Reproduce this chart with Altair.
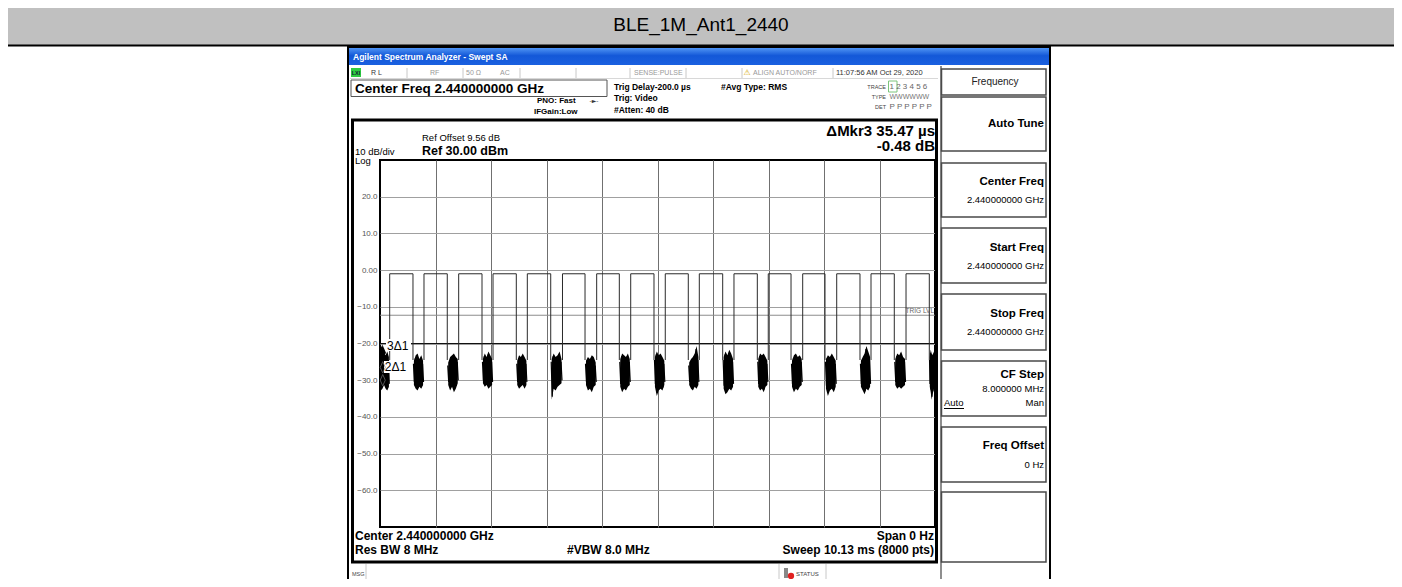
import altair as alt
import pandas as pd

# ---------------- data ----------------
title_text = "BLE_1M_Ant1_2440"
sweep_ms = 10.13
y_tick_values = [20, 10, 0, -10, -20, -30, -40, -50, -60]

rise_ms = [0.177, 0.803, 1.436, 2.063, 2.689, 3.331, 3.955, 4.576,
           5.207, 5.828, 6.461, 7.087, 7.715, 8.336, 8.962, 9.601]
fall_ms = [0.602, 1.228, 1.862, 2.488, 3.116, 3.742, 4.368, 5.001,
           5.627, 6.255, 6.887, 7.502, 8.122, 8.761, 9.387, 10.026]
high_db = -1.0
edge_low_db = -24.5

noise_top = [
    [-22.0, -21.0, -23.5, -24.0, -23.0, -24.5],
    [-25.5, -24.0, -23.5, -25.0, -24.0, -25.5],
    [-26.0, -24.5, -24.0, -23.5, -24.5, -25.0],
    [-25.0, -23.5, -24.5, -23.0, -24.0, -25.0],
    [-25.5, -24.0, -24.5, -23.5, -24.5, -25.5],
    [-25.0, -23.5, -24.5, -24.0, -23.0, -25.0],
    [-25.5, -24.5, -25.0, -24.0, -24.5, -26.0],
    [-25.0, -23.5, -24.0, -24.5, -23.5, -25.0],
    [-24.5, -23.0, -24.0, -23.5, -24.5, -25.5],
    [-26.0, -25.0, -24.5, -23.5, -21.5, -24.5],
    [-24.5, -23.0, -24.0, -22.5, -23.5, -25.0],
    [-25.0, -23.5, -24.0, -23.5, -24.5, -25.5],
    [-25.5, -24.0, -23.5, -24.5, -24.0, -25.0],
    [-25.0, -24.0, -24.5, -23.5, -24.5, -25.5],
    [-25.5, -24.5, -23.5, -21.5, -23.0, -24.5],
    [-25.0, -23.5, -24.0, -23.0, -24.5, -25.0],
    [-24.5, -22.5, -23.5, -24.0, -23.0, -24.5],
]
noise_bot = [
    [-32.0, -31.5, -30.5, -31.5, -32.0, -31.0],
    [-30.5, -31.5, -32.0, -31.0, -31.5, -30.5],
    [-30.5, -32.0, -31.0, -32.5, -31.5, -30.0],
    [-30.0, -31.0, -30.5, -31.5, -31.0, -30.5],
    [-30.5, -31.5, -31.0, -30.5, -31.5, -30.5],
    [-34.5, -31.5, -32.0, -31.0, -30.5, -30.0],
    [-30.5, -32.0, -31.5, -32.5, -31.0, -30.5],
    [-31.0, -32.5, -31.5, -32.0, -31.0, -30.5],
    [-31.0, -33.5, -32.0, -31.5, -32.0, -30.5],
    [-30.5, -31.5, -32.0, -31.0, -31.5, -30.5],
    [-31.5, -33.0, -32.5, -31.5, -32.0, -31.0],
    [-31.0, -32.0, -31.5, -32.5, -31.0, -30.5],
    [-31.0, -32.5, -31.5, -32.0, -31.0, -30.5],
    [-31.5, -33.5, -32.0, -31.5, -32.5, -31.0],
    [-31.0, -32.0, -33.0, -31.5, -32.0, -31.0],
    [-30.5, -31.5, -31.0, -31.5, -31.0, -30.5],
    [-31.0, -32.5, -34.5, -33.0, -32.0, -31.0],
]

trig_level_db = -12.3
display_line_db = -20.0
marker_names = ["1", "2", "3"]
marker_t = [0.05, 0.05, 0.055]
marker_db = [-30.0, -26.5, -22.5]
marker_labels = ["", "2\u03941", "3\u03941"]

# ---------------- tables built from the arrays ----------------
pulse_rows = []
for i, (r, f) in enumerate(zip(rise_ms, fall_ms)):
    for k, (t, v) in enumerate([(r, edge_low_db), (r, high_db), (f, high_db), (f, edge_low_db)]):
        pulse_rows.append({"p": i, "k": k, "t": t, "db": v})
pulse_df = pd.DataFrame(pulse_rows)

starts = [0.0] + fall_ms
ends = rise_ms + [sweep_ms]
noise_rows = []
band_rows = []
for b, (s, e) in enumerate(zip(starts, ends)):
    vals = []
    for a, c in zip(noise_top[b], noise_bot[b]):
        vals += [a, c]
    n = len(vals)
    for j, v in enumerate(vals):
        noise_rows.append({"b": b, "k": j, "t": s + (e - s) * (j + 0.5) / n, "db": v})
    m = len(noise_top[b])
    for j, (a, c) in enumerate(zip(noise_top[b], noise_bot[b])):
        band_rows.append({"b": b, "t": s + (e - s) * (j + 0.5) / m, "top": a + 0.8, "bot": c - 0.8})
noise_df = pd.DataFrame(noise_rows)
band_df = pd.DataFrame(band_rows)

lines_df = pd.DataFrame({"db": [trig_level_db, display_line_db],
                         "kind": ["trig", "display"]})
marker_df = pd.DataFrame({"m": marker_names, "t": marker_t, "db": marker_db,
                          "label": marker_labels})

# ---------------- encodings ----------------
FONT = "Liberation Sans"
XS = alt.Scale(domain=[0, sweep_ms], nice=False, zero=False)
YS = alt.Scale(domain=[-70, 30], nice=False, zero=False)
X = alt.X("t:Q", scale=XS,
          axis=alt.Axis(values=[sweep_ms * i / 10 for i in range(1, 10)], labels=False,
                        ticks=False, domain=False, grid=True, gridColor="#707070",
                        gridWidth=1, title=None))
YAX = alt.Axis(values=y_tick_values,
               labelExpr="datum.value == 0 ? '0.00' : format(datum.value, '.1f')",
               grid=True, gridColor="#a0a0a0", gridWidth=1, ticks=False,
               domain=False, labelFont=FONT, labelFontSize=8,
               labelColor="#555555", labelPadding=3, title=None)
Y = alt.Y("db:Q", scale=YS, axis=YAX)

OX, OY = 380, 160
one = alt.Data(values=[{"a": 1}])


def T(s, px, py, size=11, weight="normal", align="left", color="black", font=FONT):
    return alt.Chart(one).mark_text(text=s, fontSize=size, fontWeight=weight, align=align,
                                    baseline="middle", color=color, font=font).encode(
        x=alt.value(px - OX), y=alt.value(py - OY))


def R(x1, y1, x2, y2, fill=None, stroke=None, sw=1.0):
    kw = {}
    if fill is not None:
        kw["fill"] = fill
    else:
        kw["fillOpacity"] = 0
        kw["fill"] = "white"
    if stroke is not None:
        kw["stroke"] = stroke
        kw["strokeWidth"] = sw
    return alt.Chart(one).mark_rect(**kw).encode(
        x=alt.value(x1 - OX), x2=alt.value(x2 - OX), y=alt.value(y1 - OY), y2=alt.value(y2 - OY))


def L(x1, y1, x2, y2, color="black", sw=1.0):
    return alt.Chart(one).mark_rule(color=color, strokeWidth=sw).encode(
        x=alt.value(x1 - OX), x2=alt.value(x2 - OX), y=alt.value(y1 - OY), y2=alt.value(y2 - OY))


layers = []
# report header
layers.append(R(8, 8, 1394, 45, fill="#c0c0c0"))
layers.append(L(8, 45.5, 1394, 45.5, sw=2))
layers.append(T(title_text, 701, 24.5, size=19, align="center"))

# analyzer screenshot frame & title bar
blue = alt.Gradient(gradient="linear", x1=0, x2=0, y1=0, y2=1,
                    stops=[alt.GradientStop(color="#4f94f4", offset=0),
                           alt.GradientStop(color="#1358d8", offset=0.45),
                           alt.GradientStop(color="#1a60e0", offset=1)])
layers.append(R(349, 48, 1049, 65, fill=blue))
layers.append(T("Agilent Spectrum Analyzer - Swept SA", 353, 57, size=8.5, weight="bold", color="white"))
layers.append(R(348, 47, 1050, 600, stroke="black", sw=2))

# status row
layers.append(R(351, 68, 361, 77, fill="#2ecc40"))
layers.append(T("LXI", 356, 72.5, size=5.5, weight="bold", align="center", color="#123"))
for sx in [407, 463, 520, 576, 630, 686, 742, 833]:
    layers.append(L(sx, 68, sx, 78, color="#c8c8c8"))
layers.append(L(350, 78.5, 938, 78.5, color="#d8d8d8"))
layers.append(T("R L", 371, 72.5, size=7, color="#333"))
layers.append(T("RF", 430, 72.5, size=7, color="#999"))
layers.append(T("50 \u03a9", 466, 72.5, size=7, color="#999"))
layers.append(T("AC", 500, 72.5, size=7, color="#999"))
layers.append(T("SENSE:PULSE", 634, 72.5, size=7, color="#999"))
layers.append(T("\u26a0", 747, 72.5, size=8, align="center", color="#d4a800", font="DejaVu Sans"))
layers.append(T("ALIGN AUTO/NORF", 753, 72.5, size=7, color="#999"))
layers.append(T("11:07:56 AM Oct 29, 2020", 836, 72.5, size=7.5, color="#333"))

# second row
layers.append(R(351, 80, 607, 96.5, stroke="#555", sw=1))
layers.append(T("Center Freq 2.440000000 GHz", 355, 88.5, size=13.5, weight="bold"))
layers.append(T("PNO: Fast", 537, 101, size=8, weight="bold"))
layers.append(T("-\u25ba-", 594, 101, size=6, align="center", color="#333", font="DejaVu Sans"))
layers.append(T("IFGain:Low", 534, 111.5, size=8, weight="bold"))
layers.append(T("Trig Delay-200.0 \u00b5s", 614, 87, size=8.5, weight="bold"))
layers.append(T("Trig: Video", 614, 98, size=8.5, weight="bold"))
layers.append(T("#Atten: 40 dB", 614, 109.5, size=8.5, weight="bold"))
layers.append(T("#Avg Type: RMS", 721, 86.5, size=8.5, weight="bold"))
layers.append(T("TRACE", 886, 86.5, size=5.5, align="right", color="#444"))
layers.append(T("TYPE", 886, 96.5, size=5.5, align="right", color="#444"))
layers.append(T("DET", 886, 106.5, size=5.5, align="right", color="#444"))
layers.append(R(888.5, 81, 897, 92, stroke="#7cc47c", sw=1))
layers.append(T("1 2 3 4 5 6", 889.5, 86.5, size=8, color="#666"))
layers.append(T("WWWWWW", 889.5, 96.5, size=7, color="#777"))
layers.append(T("P P P P P P", 889.5, 106.5, size=8, color="#666"))

# display panel
layers.append(R(352.5, 120, 936.5, 562, stroke="black", sw=3))
layers.append(T("Ref Offset 9.56 dB", 422, 138, size=9.5))
layers.append(T("Ref 30.00 dBm", 422, 150.5, size=12.5, weight="bold"))
layers.append(T("10 dB/div", 355, 151.5, size=9.5))
layers.append(T("Log", 355, 160.5, size=9.5))
layers.append(T("\u0394Mkr3 35.47 \u00b5s", 935, 131, size=15, weight="bold", align="right"))
layers.append(T("-0.48 dB", 935, 146, size=15, weight="bold", align="right"))
layers.append(T("Center 2.440000000 GHz", 355, 536, size=12, weight="bold"))
layers.append(T("Span 0 Hz", 934, 536, size=12, weight="bold", align="right"))
layers.append(T("Res BW 8 MHz", 355, 550, size=12, weight="bold"))
layers.append(T("#VBW 8.0 MHz", 567, 550, size=12, weight="bold"))
layers.append(T("Sweep  10.13 ms (8000 pts)", 934, 550, size=12, weight="bold", align="right"))

# message row
layers.append(L(366, 564, 366, 584, color="#c8c8c8"))
layers.append(L(779, 564, 779, 584, color="#c8c8c8"))
layers.append(L(826, 564, 826, 584, color="#c8c8c8"))
layers.append(T("MSG", 352, 573.5, size=5.5, color="#444"))
layers.append(R(784, 568, 788, 578, fill="#888"))
layers.append(alt.Chart(one).mark_point(filled=True, color="#e02020", size=40, shape="circle",
                                        opacity=1).encode(x=alt.value(791 - OX), y=alt.value(576 - OY)))
layers.append(T("STATUS", 796, 573.5, size=6, color="#444"))

# softkey column
layers.append(L(941, 66, 941, 600, color="#444", sw=1.2))
keys = [(69, 95), (97, 151), (163, 217), (228, 283), (294, 350), (361, 416), (427, 482), (492, 562)]
for (a, b) in keys:
    layers.append(R(941.5, a, 1046, b, stroke="#4a4a4a", sw=1.5))
layers.append(T("Frequency", 995, 82, size=10, align="center", color="#222"))
layers.append(T("Auto Tune", 1044, 123.5, size=11.5, weight="bold", align="right"))
for ttl, ty in [("Center Freq", 182), ("Start Freq", 248), ("Stop Freq", 314)]:
    layers.append(T(ttl, 1044, ty, size=11.5, weight="bold", align="right"))
    layers.append(T("2.440000000 GHz", 1044, ty + 18, size=9.5, align="right"))
layers.append(T("CF Step", 1044, 375, size=11.5, weight="bold", align="right"))
layers.append(T("8.000000 MHz", 1044, 389, size=9.5, align="right"))
layers.append(T("Auto", 944, 403, size=9.5))
layers.append(L(944, 408.5, 964, 408.5, sw=1))
layers.append(T("Man", 1044, 403, size=9.5, align="right"))
layers.append(T("Freq Offset", 1044, 446, size=11.5, weight="bold", align="right"))
layers.append(T("0 Hz", 1044, 465, size=9.5, align="right"))

# ---------------- plot (data through scales) ----------------
ref_lines = alt.Chart(lines_df).mark_rule(strokeWidth=1).encode(
    y=Y,
    color=alt.Color("kind:N", scale=alt.Scale(domain=["trig", "display"], range=["#8c8c8c", "#111111"]),
                    legend=None))
trace = alt.Chart(pulse_df).mark_line(color="#2a2a2a", strokeWidth=1).encode(
    x=X, y=Y, detail="p:N", order="k:Q")
band = alt.Chart(band_df).mark_area(color="black", opacity=1, interpolate="linear").encode(
    x=X, y=alt.Y("top:Q", scale=YS, axis=YAX), y2="bot:Q", detail="b:N")
noise = alt.Chart(noise_df).mark_line(color="black", strokeWidth=1.2).encode(
    x=X, y=Y, detail="b:N", order="k:Q")
trig_txt = T("TRIG LVL", 934, 310.5, size=6.5, align="right", color="#666")
lbl_bg1 = R(386, 339, 411, 351, fill="white")
lbl_bg2 = R(384, 361, 409, 373, fill="white")
mk_path = "M0,-1.7L0.75,0L0,1.7L-0.75,0Z"
mk_open = alt.Chart(marker_df).transform_filter("datum.m != '3'").mark_point(
    shape=mk_path, size=45, filled=False, color="#777", strokeWidth=1).encode(x=X, y=Y)
mk_fill = alt.Chart(marker_df).transform_filter("datum.m == '3'").mark_point(
    shape=mk_path, size=60, filled=True, color="black", opacity=1).encode(x=X, y=Y)
mk_text3 = alt.Chart(marker_df).transform_filter("datum.m == '3'").mark_text(
    align="left", baseline="middle", fontSize=12, font=FONT, dx=4, dy=-7, color="black").encode(
    x=X, y=Y, text="label:N")
mk_text2 = alt.Chart(marker_df).transform_filter("datum.m == '2'").mark_text(
    align="left", baseline="middle", fontSize=12, font=FONT, dx=2, dy=0, color="black").encode(
    x=X, y=Y, text="label:N")

chart = alt.layer(
    *layers, ref_lines, band, noise, trace, trig_txt, lbl_bg1, lbl_bg2, mk_open, mk_fill,
    mk_text3, mk_text2
).properties(
    width=555, height=367,
    autosize=alt.AutoSizeParams(type="none"),
    padding={"left": 372, "top": 152, "right": 459, "bottom": 52},
    background="white",
).configure_view(stroke="black", strokeWidth=2)

chart.save("out.html", embed_options={"renderer": "svg", "actions": False})
